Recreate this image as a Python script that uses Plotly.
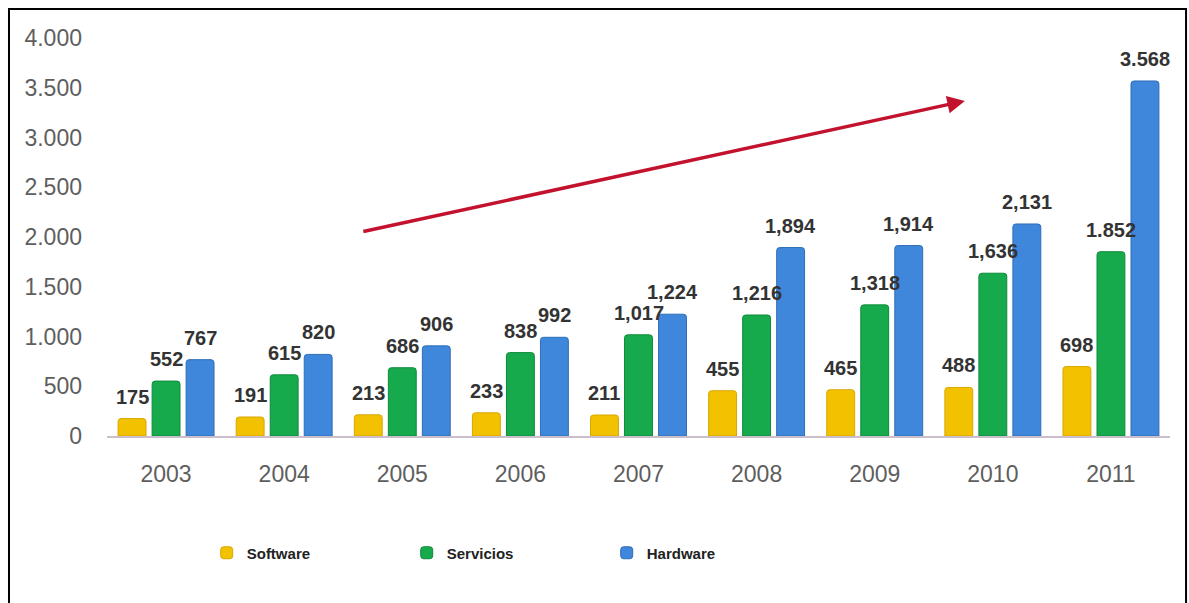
import plotly.graph_objects as go

# Annual figures by segment
years = ["2003", "2004", "2005", "2006", "2007", "2008", "2009", "2010", "2011"]
software = [175, 191, 213, 233, 211, 455, 465, 488, 698]
servicios = [552, 615, 686, 838, 1017, 1216, 1318, 1636, 1852]
hardware = [767, 820, 906, 992, 1224, 1894, 1914, 2131, 3568]

# Value labels as printed above each bar
software_labels = ["175", "191", "213", "233", "211", "455", "465", "488", "698"]
servicios_labels = ["552", "615", "686", "838", "1,017", "1,216", "1,318", "1,636", "1.852"]
hardware_labels = ["767", "820", "906", "992", "1,224", "1,894", "1,914", "2,131", "3.568"]

y_ticks = [0, 500, 1000, 1500, 2000, 2500, 3000, 3500, 4000]
y_tick_text = ["0", "500", "1.000", "1.500", "2.000", "2.500", "3.000", "3.500", "4.000"]

series = [
    ("Software", software, software_labels, "#F2C200", "#D9A600"),
    ("Servicios", servicios, servicios_labels, "#16AA4C", "#0E8A3A"),
    ("Hardware", hardware, hardware_labels, "#3F87DA", "#2E6DB8"),
]

BARGAP = 0.136
BARGROUPGAP = 0.18
slot = (1 - BARGAP) / len(series)  # width of one bar slot in category units

label_font = dict(family="Liberation Sans", size=20, color="#333333", weight="bold")

fig = go.Figure()
for k, (name, values, labels, color, edge) in enumerate(series):
    fig.add_trace(go.Bar(
        name=name,
        x=years,
        y=values,
        marker=dict(color=color, line=dict(color=edge, width=1), cornerradius=3),
    ))
    # value labels centred over each bar of this series
    for j, (v, t) in enumerate(zip(values, labels)):
        fig.add_annotation(
            x=j + (k - 1) * slot, y=v,
            xref="x", yref="y",
            text=t, showarrow=False,
            font=label_font,
            xanchor="center", yanchor="middle",
            yshift=22,
        )

# Upward trend arrow
fig.add_annotation(
    xref="paper", yref="paper",
    x=0.807, y=0.842,
    ax=-603, ay=131,
    text="", showarrow=True,
    arrowhead=2, arrowsize=1.0, arrowwidth=3.5,
    arrowcolor="#C3122E",
)

# Frame around the chart
fig.add_shape(
    type="rect", xref="paper", yref="paper",
    x0=-0.0922, x1=1.0151, y0=-0.45, y1=1.0729,
    line=dict(color="#000000", width=2),
    fillcolor="rgba(0,0,0,0)",
    layer="above",
)

fig.update_layout(
    width=1189, height=603,
    margin=dict(l=107, r=19, t=38, b=167),
    paper_bgcolor="white",
    plot_bgcolor="white",
    barmode="group",
    bargap=BARGAP,
    bargroupgap=BARGROUPGAP,
    showlegend=True,
    legend=dict(
        orientation="h",
        x=0.0938, y=-0.294,
        xanchor="left", yanchor="middle",
        entrywidth=155, entrywidthmode="pixels",
        font=dict(family="Liberation Sans", size=15, color="#222222", weight="bold"),
        bgcolor="rgba(0,0,0,0)",
    ),
    xaxis=dict(
        range=[-0.5, 8.5],
        showgrid=False,
        showline=True, linecolor="#CBBFCB", linewidth=2,
        ticks="",
        tickfont=dict(family="Liberation Sans", size=23, color="#5E5E5E"),
        ticklabelstandoff=16,
    ),
    yaxis=dict(
        range=[0, 4000],
        tickvals=y_ticks,
        ticktext=y_tick_text,
        showgrid=False,
        zeroline=False,
        showline=False,
        ticks="",
        tickfont=dict(family="Liberation Sans", size=23, color="#5E5E5E"),
        ticklabelstandoff=24,
    ),
)

fig.write_html("out.html")
